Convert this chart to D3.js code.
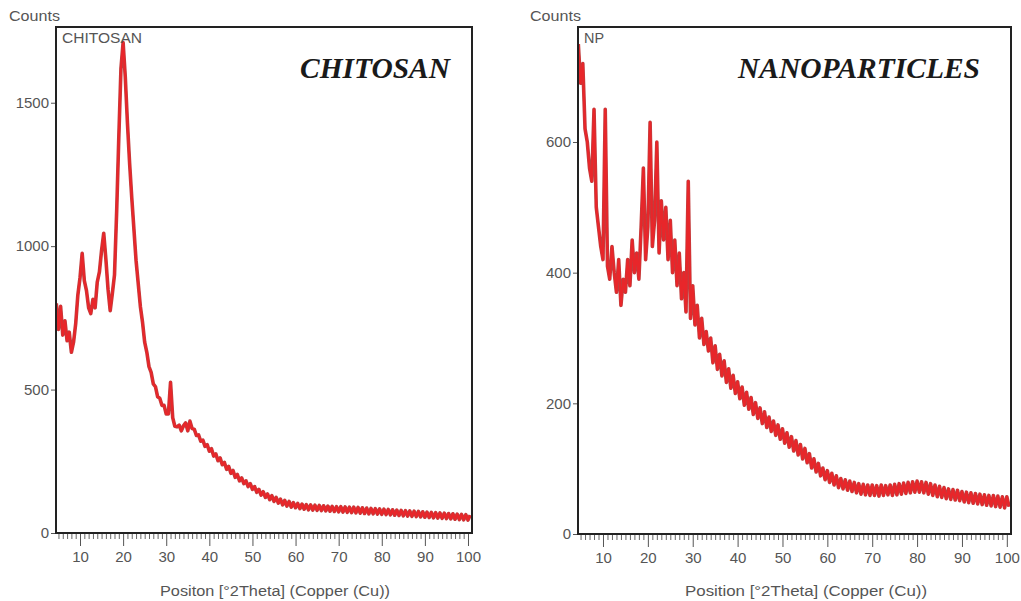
<!DOCTYPE html>
<html><head><meta charset="utf-8">
<script src="https://cdn.jsdelivr.net/npm/d3@7"></script>
<style>
html,body{margin:0;padding:0;background:#fff;}
svg{display:block;}
</style></head>
<body><svg id="chart" width="1021" height="601"></svg>
<script>
// ---------- DATA ----------
const angleStart = 4.5;   // °2Theta of first sample
const angleStep = 0.5;    // sampling step

const chitosanCounts = [
 800,710,790,690,740,670,700,630,665,730,
 830,890,975,880,845,785,765,815,785,875,
 910,985,1045,955,850,775,835,900,1120,1380,
 1620,1710,1590,1430,1290,1170,1060,950,870,790,
 735,665,630,580,560,520,510,475,470,445,
 445,415,415,525,402,372,370,376,356,374,
 384,356,390,364,362,340,342,320,324,302,
 308,285,294,268,276,252,262,238,246,222,
 232,208,218,194,204,182,192,172,182,162,
 172,152,162,142,152,132,144,124,136,116,
 130,110,124,104,118,98,114,94,110,90,
 106,88,103,85,101,83,99,81,98,80,
 97,79,96,78,95,77,94,76,93,75,
 92,74,92,73,91,72,90,71,90,70,
 89,69,88,68,87,67,86,67,85,66,
 84,65,83,64,82,63,81,62,80,61,
 79,60,78,59,77,58,76,57,75,56,
 74,55,73,54,72,53,71,52,70,51,
 69,50,68,49,67,48,66,47,65,46,
 64,45,62
];

const npCounts = [
 750,690,720,620,600,560,540,650,500,470,
 440,420,650,410,390,440,400,370,420,350,
 390,370,420,380,450,400,430,390,470,560,
 420,470,630,440,480,600,430,510,450,500,
 420,480,400,450,380,430,360,400,340,540,
 330,380,320,350,300,330,290,310,280,300,
 262,288,252,275,242,265,232,253,223,243,
 215,233,207,225,197,217,191,209,183,201,
 177,193,169,187,163,179,157,173,151,167,
 145,161,139,155,133,149,127,143,121,137,
 115,131,109,123,101,115,95,108,89,101,
 83,97,79,93,75,89,71,85,69,83,
 67,81,65,79,63,77,61,76,60,75,
 59,75,59,74,58,75,59,74,60,75,
 59,76,60,77,61,78,62,79,63,80,
 64,81,64,80,63,79,61,77,59,75,
 57,73,56,71,54,69,53,68,52,67,
 51,65,49,64,48,63,47,62,46,61,
 45,60,44,59,43,59,42,58,41,57,
 40,57,42
];

const xTicks = [10,20,30,40,50,60,70,80,90,100];
const chitosanYTicks = [0,500,1000,1500];
const npYTicks = [0,200,400,600];
const xDomain = [4.43, 100.93];
const chitosanYMax = 1764;
const npYMax = 776;

const panelTitles = ["CHITOSAN","NANOPARTICLES"];
const sampleNames = ["CHITOSAN","NP"];
const xLabels = ["Positon [°2Theta] (Copper (Cu))","Position [°2Theta] (Copper (Cu))"];
const yLabel = "Counts";

// ---------- DRAW ----------
const svg = d3.select("#chart");
svg.append("rect").attr("width",1021).attr("height",601).attr("fill","#fff");

const panels = [
  {counts:chitosanCounts, yTicks:chitosanYTicks, yMax:chitosanYMax,
   left:56, right:472, top:27, bottom:533, title:panelTitles[0], titleX:300, titleW:150,
   name:sampleNames[0], nameW:80, xLabel:xLabels[0], xLabelW:230, xLabelX:275, countsX:9},
  {counts:npCounts, yTicks:npYTicks, yMax:npYMax,
   left:578, right:1011, top:27, bottom:534, title:panelTitles[1], titleX:738, titleW:242,
   name:sampleNames[1], nameW:20, xLabel:xLabels[1], xLabelW:242, xLabelX:806, countsX:530}
];

const font = 'Arial,"Liberation Sans",sans-serif';

panels.forEach((p,pi)=>{
  const g = svg.append("g");
  const x = d3.scaleLinear().domain(xDomain).range([p.left,p.right]);
  const y = d3.scaleLinear().domain([0,p.yMax]).range([p.bottom,p.top]);

  const clipId = "clip"+pi;
  svg.append("clipPath").attr("id",clipId).append("rect")
    .attr("x",p.left).attr("y",p.top).attr("width",p.right-p.left).attr("height",p.bottom-p.top);

  const pts = p.counts.map((c,i)=>[angleStart+i*angleStep, c]);
  const line = d3.line().x(d=>x(d[0])).y(d=>y(d[1]));

  g.append("path").datum(pts).attr("clip-path",`url(#${clipId})`)
    .attr("d",line).attr("fill","none").attr("stroke","#b51c1c")
    .attr("stroke-width",3.6).attr("stroke-linejoin","round").attr("opacity",0.85);
  g.append("path").datum(pts).attr("clip-path",`url(#${clipId})`)
    .attr("d",line).attr("fill","none").attr("stroke","#e8262a")
    .attr("stroke-width",2.2).attr("stroke-linejoin","round");

  // minor x ticks
  const minor = d3.range(5,101,1).filter(v=>v%10!==0);
  g.append("g").attr("transform",`translate(0,${p.bottom})`)
    .call(d3.axisBottom(x).tickValues(minor).tickSize(6).tickFormat(""))
    .call(s=>s.select(".domain").remove())
    .call(s=>s.selectAll("line").attr("stroke","#666").attr("stroke-width",1));

  // major x ticks
  g.append("g").attr("transform",`translate(0,${p.bottom})`)
    .call(d3.axisBottom(x).tickValues(xTicks).tickSize(13).tickPadding(5).tickFormat(d3.format("d")))
    .call(s=>s.select(".domain").remove())
    .call(s=>s.selectAll("line").attr("stroke","#555").attr("stroke-width",1))
    .call(s=>s.selectAll("text").attr("font-size",15).attr("font-family",font).attr("fill","#555"));

  // y ticks
  g.append("g").attr("transform",`translate(${p.left},0)`)
    .call(d3.axisLeft(y).tickValues(p.yTicks).tickSize(5).tickPadding(2).tickFormat(d3.format("d")))
    .call(s=>s.select(".domain").remove())
    .call(s=>s.selectAll("line").attr("stroke","#555").attr("stroke-width",1))
    .call(s=>s.selectAll("text").attr("font-size",15).attr("font-family",font).attr("fill","#555"));

  // frame
  g.append("rect").attr("x",p.left).attr("y",p.top)
    .attr("width",p.right-p.left).attr("height",p.bottom-p.top)
    .attr("fill","none").attr("stroke","#222").attr("stroke-width",2);

  // Counts label
  g.append("text").attr("x",p.countsX).attr("y",21).text(yLabel)
    .attr("font-family",font).attr("font-size",14).attr("fill","#555")
    .attr("textLength",51).attr("lengthAdjust","spacingAndGlyphs");

  // sample name inside
  g.append("text").attr("x",p.left+6).attr("y",43).text(p.name)
    .attr("font-family",font).attr("font-size",14).attr("fill","#555")
    .attr("textLength",p.nameW).attr("lengthAdjust","spacingAndGlyphs");

  // big title
  g.append("text").attr("x",p.titleX).attr("y",78).text(p.title)
    .attr("font-family",'"Liberation Serif","DejaVu Serif",serif')
    .attr("font-size",29).attr("font-weight","bold").attr("font-style","italic")
    .attr("fill","#1a1a1a")
    .attr("textLength",p.titleW).attr("lengthAdjust","spacingAndGlyphs");

  // x label
  g.append("text").attr("x",p.xLabelX).attr("y",596).attr("text-anchor","middle").text(p.xLabel)
    .attr("font-family",font).attr("font-size",14).attr("fill","#555")
    .attr("textLength",p.xLabelW).attr("lengthAdjust","spacingAndGlyphs");
});
</script></body></html>
